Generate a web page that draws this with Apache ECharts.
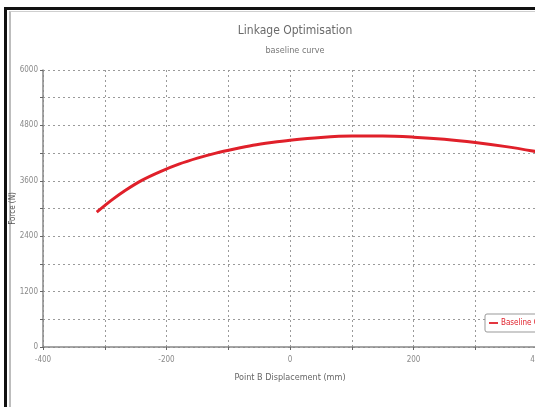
<!DOCTYPE html>
<html>
<head>
<meta charset="utf-8">
<script src="https://cdn.jsdelivr.net/npm/echarts@6/dist/echarts.min.js"></script>
<style>
  html, body { margin: 0; padding: 0; background: #fff; }
  #frame { position: absolute; left: 0; top: 0; width: 535px; height: 407px; overflow: hidden; background: #fff; }
  #outer { position: absolute; left: 4px; top: 7px; width: 600px; height: 500px; border-left: 3px solid #111; border-top: 3px solid #111; }
  #inner { position: absolute; left: 9px; top: 11px; width: 600px; height: 500px; border-left: 2px solid #bdbdbd; border-top: 1px solid #cfcfcf; }
  #chart { position: absolute; left: 0; top: 0; width: 535px; height: 407px; }
</style>
</head>
<body>
<div id="frame">
  <div id="outer"></div>
  <div id="inner"></div>
  <div id="chart"></div>
</div>
<script>
// Point B displacement (mm) and the resulting force (N) of the baseline linkage
const displacement = [-313, -290, -267, -240, -210, -180, -150, -120, -90, -60, -30, 0, 50, 100, 150, 200, 250, 300, 350, 400];
const force = [2920, 3170, 3390, 3610, 3800, 3960, 4090, 4200, 4290, 4370, 4430, 4480, 4540, 4570, 4570, 4545, 4500, 4430, 4340, 4230];

const xTicks = { min: -400, max: 400, step: 200 };
const yTicks = { min: 0, max: 6000, step: 1200 };

const titleText = 'Linkage Optimisation';
const subtitleText = 'baseline curve';
const xName = 'Point B Displacement (mm)';
const yName = 'Force (N)';
const seriesName = 'Baseline Curve';

const font = '"Liberation Sans Narrow", "DejaVu Sans Condensed", "Liberation Sans", sans-serif';
const grey = '#8a8a8a';
const gridDash = { color: '#9a9a9a', type: [2, 3], width: 1 };

const chart = echarts.init(document.getElementById('chart'), null, { renderer: 'canvas' });
chart.setOption({
  backgroundColor: 'transparent',
  animation: false,
  title: {
    text: titleText,
    subtext: subtitleText,
    left: 290,
    textAlign: 'center',
    top: 20,
    itemGap: 9,
    textStyle: { fontFamily: font, fontSize: 12, fontWeight: 'normal', color: '#6a6a6a' },
    subtextStyle: { fontFamily: font, fontSize: 9, color: '#777' }
  },
  legend: {
    data: [{ name: seriesName, icon: 'path://M0,0H10V2H0Z' }],
    left: 485,
    top: 314,
    padding: [5, 6, 5, 4],
    itemWidth: 9,
    itemHeight: 2,
    itemGap: 2,
    borderColor: '#999',
    borderWidth: 1,
    borderRadius: 2,
    backgroundColor: '#fff',
    textStyle: { fontFamily: font, fontSize: 8, color: '#e0202a', padding: [0, 0, 0, -2] }
  },
  grid: { left: 43, top: 70, width: 494, height: 277, containLabel: false, outerBoundsMode: 'none' },
  xAxis: {
    type: 'value',
    min: xTicks.min,
    max: xTicks.max,
    interval: xTicks.step,
    name: xName,
    nameLocation: 'middle',
    nameGap: 26,
    nameMoveOverlap: false,
    nameTextStyle: { fontFamily: font, fontSize: 9, color: '#666' },
    axisLine: { show: true, onZero: false, lineStyle: { color: '#888', width: 1.5 } },
    axisTick: { show: true, inside: false, length: 3, lineStyle: { color: '#666' } },
    minorTick: { show: true, splitNumber: 2, length: 3, lineStyle: { color: '#666' } },
    axisLabel: { fontFamily: font, fontSize: 8, color: grey, margin: 9 },
    splitLine: { show: true, lineStyle: gridDash },
    minorSplitLine: { show: true, lineStyle: gridDash }
  },
  yAxis: {
    type: 'value',
    min: yTicks.min,
    max: yTicks.max,
    interval: yTicks.step,
    name: yName,
    nameLocation: 'middle',
    nameGap: 26,
    nameMoveOverlap: false,
    nameTextStyle: { fontFamily: font, fontSize: 8, color: '#555' },
    axisLine: { show: true, onZero: false, lineStyle: { color: '#888', width: 1.5 } },
    axisTick: { show: true, length: 3, lineStyle: { color: '#666' } },
    minorTick: { show: true, splitNumber: 2, length: 3, lineStyle: { color: '#666' } },
    axisLabel: { fontFamily: font, fontSize: 8, color: grey, margin: 5, formatter: v => String(v) },
    splitLine: { show: true, lineStyle: gridDash },
    minorSplitLine: { show: true, lineStyle: gridDash }
  },
  series: [{
    name: seriesName,
    type: 'line',
    data: displacement.map((x, i) => [x, force[i]]),
    smooth: 0.3,
    showSymbol: false,
    clip: true,
    lineStyle: { color: '#e0202a', width: 3 },
    itemStyle: { color: '#e0202a' }
  }]
});
</script>
</body>
</html>
